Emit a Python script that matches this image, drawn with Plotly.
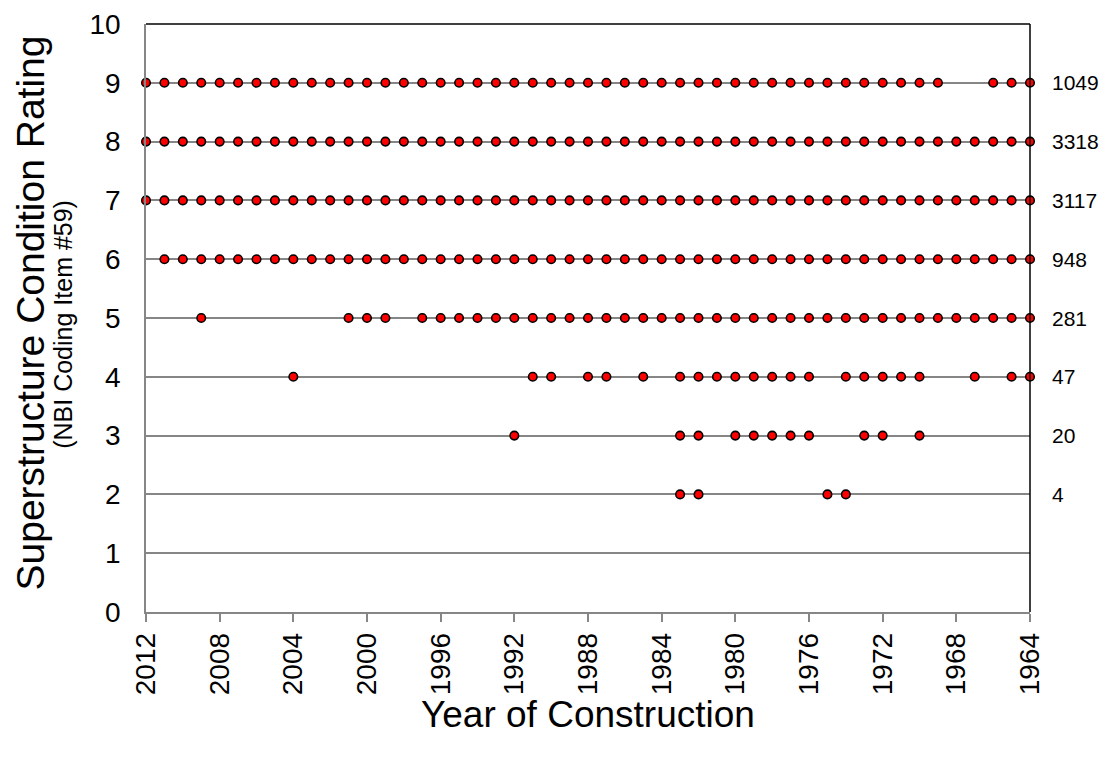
import plotly.graph_objects as go

# Years of construction with at least one bridge at each superstructure rating
years_r9 = [2012, 2011, 2010, 2009, 2008, 2007, 2006, 2005, 2004, 2003, 2002, 2001, 2000, 1999, 1998,
            1997, 1996, 1995, 1994, 1993, 1992, 1991, 1990, 1989, 1988, 1987, 1986, 1985, 1984, 1983,
            1982, 1981, 1980, 1979, 1978, 1977, 1976, 1975, 1974, 1973, 1972, 1971, 1970, 1969,
            1966, 1965, 1964]
years_r8 = [2012, 2011, 2010, 2009, 2008, 2007, 2006, 2005, 2004, 2003, 2002, 2001, 2000, 1999, 1998,
            1997, 1996, 1995, 1994, 1993, 1992, 1991, 1990, 1989, 1988, 1987, 1986, 1985, 1984, 1983,
            1982, 1981, 1980, 1979, 1978, 1977, 1976, 1975, 1974, 1973, 1972, 1971, 1970, 1969, 1968,
            1967, 1966, 1965, 1964]
years_r7 = [2012, 2011, 2010, 2009, 2008, 2007, 2006, 2005, 2004, 2003, 2002, 2001, 2000, 1999, 1998,
            1997, 1996, 1995, 1994, 1993, 1992, 1991, 1990, 1989, 1988, 1987, 1986, 1985, 1984, 1983,
            1982, 1981, 1980, 1979, 1978, 1977, 1976, 1975, 1974, 1973, 1972, 1971, 1970, 1969, 1968,
            1967, 1966, 1965, 1964]
years_r6 = [2011, 2010, 2009, 2008, 2007, 2006, 2005, 2004, 2003, 2002, 2001, 2000, 1999, 1998,
            1997, 1996, 1995, 1994, 1993, 1992, 1991, 1990, 1989, 1988, 1987, 1986, 1985, 1984, 1983,
            1982, 1981, 1980, 1979, 1978, 1977, 1976, 1975, 1974, 1973, 1972, 1971, 1970, 1969, 1968,
            1967, 1966, 1965, 1964]
years_r5 = [2009, 2001, 2000, 1999,
            1997, 1996, 1995, 1994, 1993, 1992, 1991, 1990, 1989, 1988, 1987, 1986, 1985, 1984, 1983,
            1982, 1981, 1980, 1979, 1978, 1977, 1976, 1975, 1974, 1973, 1972, 1971, 1970, 1969, 1968,
            1967, 1966, 1965, 1964]
years_r4 = [2004, 1991, 1990, 1988, 1987, 1985, 1983, 1982, 1981, 1980, 1979, 1978, 1977, 1976,
            1974, 1973, 1972, 1971, 1970, 1967, 1965, 1964]
years_r3 = [1992, 1983, 1982, 1980, 1979, 1978, 1977, 1976, 1973, 1972, 1970]
years_r2 = [1983, 1982, 1975, 1974]

ratings = [9, 8, 7, 6, 5, 4, 3, 2]
year_sets = [years_r9, years_r8, years_r7, years_r6, years_r5, years_r4, years_r3, years_r2]
counts = [1049, 3318, 3117, 948, 281, 47, 20, 4]

x_ticks = [2012, 2008, 2004, 2000, 1996, 1992, 1988, 1984, 1980, 1976, 1972, 1968, 1964]
y_ticks = [0, 1, 2, 3, 4, 5, 6, 7, 8, 9, 10]

FONT = "Liberation Sans, Arial, sans-serif"
GRID = "#868686"

xs, ys = [], []
for r, yrs in zip(ratings, year_sets):
    xs.extend(yrs)
    ys.extend([r] * len(yrs))

fig = go.Figure()
fig.add_trace(go.Scatter(
    x=xs, y=ys, mode="markers", cliponaxis=False, showlegend=False,
    marker=dict(color="#ff0000", size=8.5, line=dict(color="black", width=1.6)),
))

for r, c in zip(ratings, counts):
    fig.add_annotation(x=1.0, xref="paper", y=r, yref="y", text=str(c), showarrow=False,
                       xanchor="left", xshift=20, font=dict(family=FONT, size=21, color="black"))

# black top and right frame lines
fig.add_shape(type="line", xref="paper", yref="paper", x0=0, x1=1, y0=1, y1=1,
              line=dict(color="black", width=1.5))
fig.add_shape(type="line", xref="paper", yref="paper", x0=1, x1=1, y0=0, y1=1,
              line=dict(color="black", width=1.5))

fig.add_annotation(x=-0.131, xref="paper", y=0.508, yref="paper",
                   text="Superstructure Condition Rating", textangle=-90, showarrow=False,
                   font=dict(family=FONT, size=39, color="black"), xanchor="center", yanchor="middle")
fig.add_annotation(x=-0.094, xref="paper", y=0.49, yref="paper",
                   text="(NBI Coding Item #59)", textangle=-90, showarrow=False,
                   font=dict(family=FONT, size=25, color="black"), xanchor="center", yanchor="middle")
fig.add_annotation(x=0.5, xref="paper", y=-0.174, yref="paper",
                   text="Year of Construction", showarrow=False,
                   font=dict(family=FONT, size=37, color="black"), xanchor="center", yanchor="middle")

fig.update_layout(
    width=1115, height=757,
    margin=dict(l=138, r=93, t=16, b=153),
    plot_bgcolor="white", paper_bgcolor="white",
    font=dict(family=FONT, color="black"),
    xaxis=dict(
        range=[2012, 1964], autorange=False, automargin=False,
        tickvals=x_ticks, ticktext=[str(v) for v in x_ticks],
        tickangle=-90, ticks="outside", ticklen=8, tickcolor=GRID, tickwidth=1.5,
        tickfont=dict(family=FONT, size=28, color="black"),
        showgrid=False, zeroline=False, showline=True, linecolor=GRID, linewidth=1.5,
    ),
    yaxis=dict(
        range=[0, 10], autorange=False, automargin=False,
        tickvals=y_ticks, ticktext=[str(v) for v in y_ticks],
        tickfont=dict(family=FONT, size=28, color="black"), ticks="", ticklabelstandoff=18,
        ticklabeloverflow="allow",
        showgrid=True, gridcolor=GRID, gridwidth=1.5,
        zeroline=False, showline=True, linecolor=GRID, linewidth=1.5,
    ),
)

fig.write_html("out.html")
